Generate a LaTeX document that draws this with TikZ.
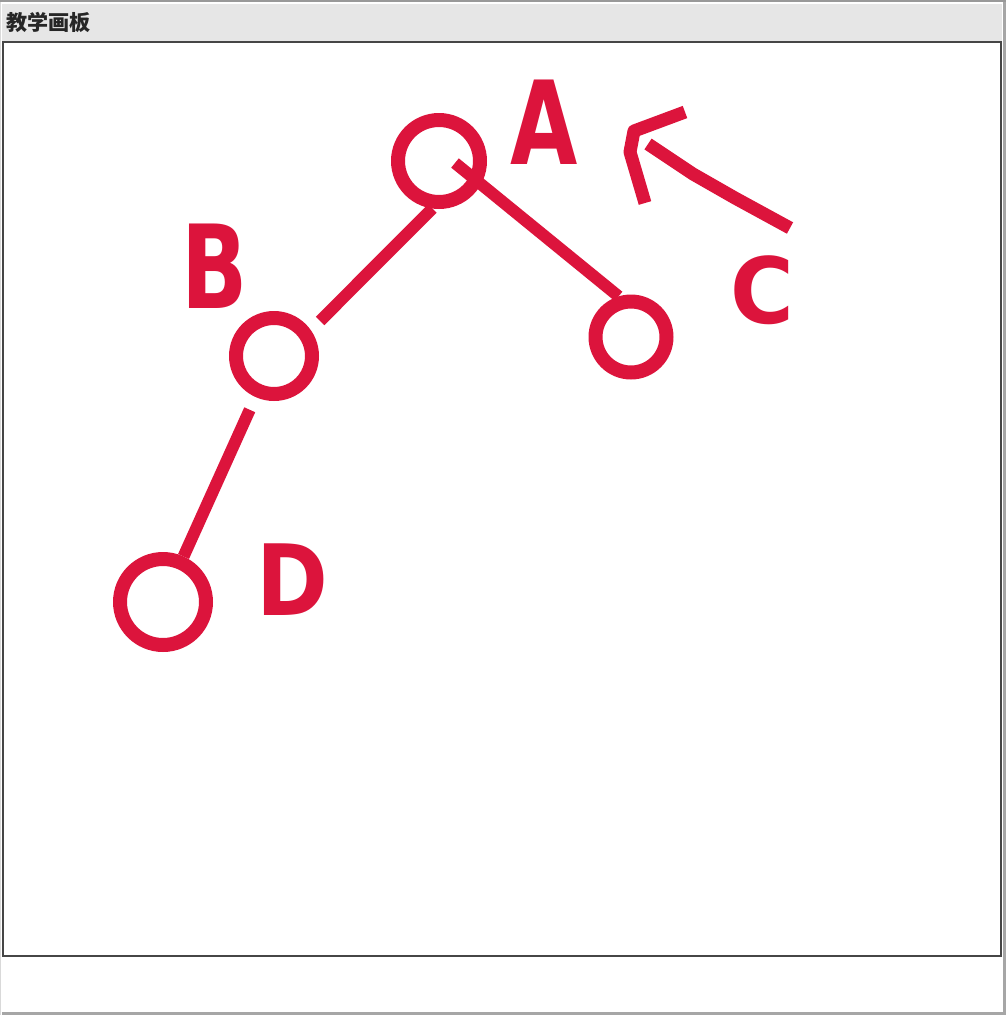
\documentclass[tikz,border=0pt]{standalone}
\usepackage{fontspec}
\newfontfamily\cjk{Noto Sans CJK SC}
\newfontfamily\letrafont{DejaVu Sans}
\usepackage{tikz}
\definecolor{carmesi}{RGB}{220,20,60}
\definecolor{barra}{RGB}{230,230,230}
\definecolor{borde}{RGB}{70,70,70}

\begin{document}
\begin{tikzpicture}[x=0.02cm,y=-0.02cm,
		nodo/.style={draw=carmesi,circle,line width=0.28cm,inner sep=0pt},
		arco/.style={carmesi,line width=0.24cm,line join=round},
		letra/.style={text=carmesi,inner sep=0pt,font=\letrafont\bfseries\fontsize{#1}{#1}\selectfont}]
		\useasboundingbox (0,0) rectangle (1006,1015);

		%Marco
		\fill[white] (0,0) rectangle (1006,1015);
		\fill[gray!80] (0,0) rectangle (1006,2);
		\fill[gray!70] (1003,2) rectangle (1006,1015);
		\fill[gray!70] (2,1012) rectangle (1006,1015);
		\fill[gray!30] (0,2) rectangle (1,1015);
		\fill[barra] (2,4) rectangle (1002,42);
		\node[anchor=west,inner sep=0pt,text=black!85,font=\cjk\bfseries\fontsize{12}{12}\selectfont] (titulo) at (6,22) {教学画板};
		\draw[borde,line width=0.03cm] (3,42) rectangle (1001,956);

		%Nodos
		\node [nodo,minimum size=1.64cm] (nodoA) at (439,161) {};
		\node [nodo,minimum size=1.52cm] (nodoB) at (274,356) {};
		\node [nodo,minimum size=1.42cm] (nodoC) at (631,337) {};
		\node [nodo,minimum size=1.72cm] (nodoD) at (163,602) {};

		%Arcos
		\draw[arco,shorten >=0.26cm] (nodoA.262)--(nodoB.35);
		\draw[arco] ([shift={(16,2)}]nodoA.center)--(nodoC.107);
		\draw[arco,shorten <=0.28cm] (nodoB)--(nodoD);

		%Flecha
		\coordinate (flechaCola) at (790,228);
		\coordinate (flechaPunta) at (648,144);
		\coordinate (alaSup) at (685,112);
		\coordinate (alaInf) at (645,203);
		\draw[arco,line width=0.26cm] (flechaCola)--(735,198)--(693,174)--(flechaPunta);
		\draw[arco,line width=0.26cm] (alaSup)--(634,131)--(630,152)--(alaInf);

		%Letras
		\node [letra=66,xscale=0.75] (letraA) at (544,122) {A};
		\node [letra=66,xscale=0.75] (letraB) at (215,266) {B};
		\node [letra=52,xscale=0.95] (letraC) at (762,290) {C};
		\node [letra=56,xscale=0.88] (letraD) at (292,580) {D};
\end{tikzpicture}
\end{document}
